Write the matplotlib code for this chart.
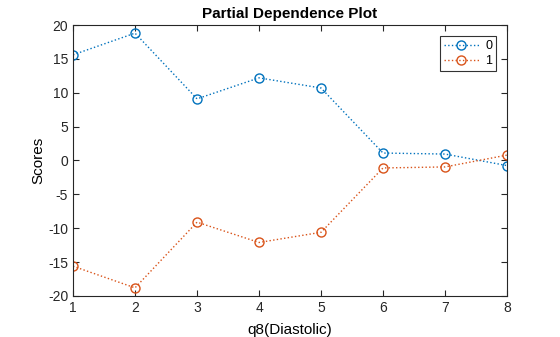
import numpy as np
import matplotlib.pyplot as plt

plt.rcParams['font.family'] = ['Liberation Sans', 'DejaVu Sans']
plt.rcParams['axes.unicode_minus'] = False

x = [1, 2, 3, 4, 5, 6, 7, 8]
score_0 = [15.6, 18.8, 9.1, 12.2, 10.7, 1.1, 0.95, -0.75]
score_1 = [-15.6, -18.8, -9.1, -12.1, -10.6, -1.1, -0.95, 0.8]
labels = ['0', '1']

fig = plt.figure(figsize=(5.6, 3.37), dpi=100)
ax = fig.add_axes([0.1304, 0.1217, 0.7750, 0.8041])

ax.plot(x, score_0, ':o', color='#0072BD', mfc='none', ms=6.5, lw=1, label=labels[0])
ax.plot(x, score_1, ':o', color='#D95319', mfc='none', ms=6.5, lw=1, label=labels[1])

ax.set_xlim(1, 8)
ax.set_ylim(-20, 20)
ax.set_xticks(x)
ax.set_yticks(np.arange(-20, 21, 5))
ax.tick_params(direction='in', length=4, labelsize=10, top=True, right=True,
               labeltop=False, labelright=False, colors='#262626')
for s in ax.spines.values():
    s.set_color('#262626')

ax.set_title('Partial Dependence Plot', fontsize=11, fontweight='bold', pad=5)
ax.set_xlabel('q8(Diastolic)', fontsize=11, labelpad=6)
ax.set_ylabel('Scores', fontsize=11, labelpad=2)

leg = ax.legend(loc='upper right', fancybox=False, fontsize=9, borderaxespad=0.9,
                handlelength=2.8, labelspacing=0.25, borderpad=0.3, handletextpad=0.5)
leg.get_frame().set_edgecolor('black')
leg.get_frame().set_linewidth(0.8)

fig.savefig('out.png', dpi=100)
